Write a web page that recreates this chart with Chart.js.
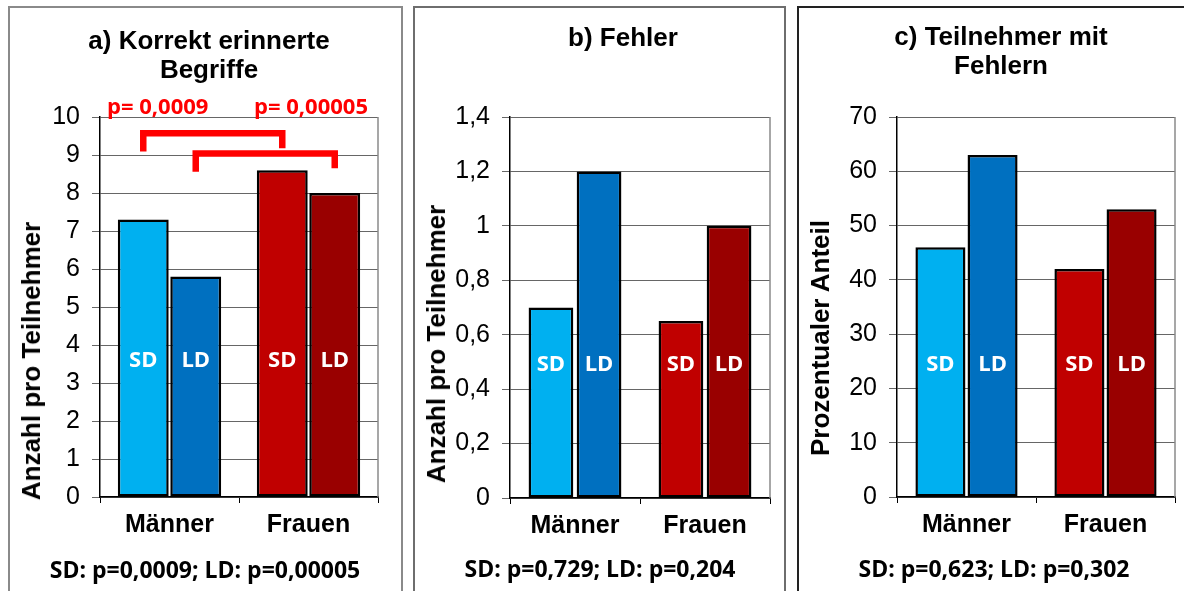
<!DOCTYPE html>
<html><head><meta charset="utf-8">
<script src="https://cdn.jsdelivr.net/npm/chart.js@4/dist/chart.umd.min.js"></script>
<style>
html,body{margin:0;padding:0;background:#fff;width:1184px;height:591px;overflow:hidden;position:relative}
.panel{position:absolute;box-sizing:border-box;border-style:solid;border-width:2px 2px 0 2px;top:6px;height:600px}
.wrap{position:absolute;top:7px;height:584px}
.title{position:absolute;font:bold 26px 'Liberation Sans',Arial,sans-serif;line-height:29px;text-align:center;white-space:nowrap;transform:translateX(-50%);color:#000}
.ytitle{position:absolute;font:bold 26px 'Liberation Sans',Arial,sans-serif;line-height:26px;white-space:nowrap;transform:translate(-50%,-50%) rotate(-90deg);color:#000}
.foot{position:absolute;font:bold 23px 'Open Sans',sans-serif;line-height:30px;white-space:nowrap;transform:translateX(-50%);color:#000}
.pval{position:absolute;font:bold 22px 'Open Sans',sans-serif;color:#ff0000;line-height:26px;white-space:nowrap}
</style>
</head><body>
<div class="panel" style="left:8px;width:395px;border-color:#8a8a8a"></div>
<div class="panel" style="left:413px;width:373px;border-color:#6e6e6e"></div>
<div class="panel" style="left:797px;width:420px;border-color:#222;border-right-width:0"></div>

<div class="wrap" style="left:9px;width:393px"><canvas id="ca" width="393" height="584"></canvas></div>
<div class="wrap" style="left:414px;width:371px"><canvas id="cb" width="371" height="584"></canvas></div>
<div class="wrap" style="left:798px;width:386px"><canvas id="cc" width="386" height="584"></canvas></div>

<div class="title" style="left:209px;top:26px">a) Korrekt erinnerte<br>Begriffe</div>
<div class="title" style="left:623px;top:23px">b) Fehler</div>
<div class="title" style="left:1001px;top:21.5px">c) Teilnehmer mit<br>Fehlern</div>

<div class="ytitle" style="left:31px;top:361px">Anzahl pro Teilnehmer</div>
<div class="ytitle" style="left:436px;top:344px">Anzahl pro Teilnehmer</div>
<div class="ytitle" style="left:820px;top:338px">Prozentualer Anteil</div>

<div class="pval" style="left:107px;top:92px">p= 0,0009</div>
<div class="pval" style="left:254px;top:92px">p= 0,00005</div>

<div class="foot" style="left:205px;top:554px">SD: p=0,0009; LD: p=0,00005</div>
<div class="foot" style="left:600px;top:553px">SD: p=0,729; LD: p=0,204</div>
<div class="foot" style="left:994px;top:553px">SD: p=0,623; LD: p=0,302</div>

<script>
// ---- data ----
const categories = ['Männer', 'Frauen'];
const seriesNames = ['SD', 'LD'];

const aSD = [7.3, 8.6];
const aLD = [5.8, 8.0];
const bSD = [0.7, 0.65];
const bLD = [1.2, 1.0];
const cSD = [46, 42];
const cLD = [63, 53];

const aTicks = ['0','1','2','3','4','5','6','7','8','9','10'];
const bTicks = ['0','0,2','0,4','0,6','0,8','1','1,2','1,4'];
const cTicks = ['0','10','20','30','40','50','60','70'];

// significance brackets in panel a (SD pair, LD pair), in axis units
const bracketTops = [9.57, 9.04];
const bracketLeftEnds = [9.09, 8.56];
const bracketRightEnds = [9.18, 8.65];

const sdColors = ['#00B0F0', '#C00000'];
const ldColors = ['#0070C0', '#990000'];

const FAM = "'Liberation Sans', Arial, sans-serif";

const barTextPlugin = {
  id: 'barText',
  afterDatasetsDraw(chart, args, opts) {
    const ctx = chart.ctx, area = chart.chartArea;
    const yc = area.bottom - opts.frac * (area.bottom - area.top);
    ctx.save();
    ctx.font = "bold 22px 'Open Sans', sans-serif";
    ctx.fillStyle = '#fff';
    ctx.textAlign = 'center';
    ctx.textBaseline = 'alphabetic';
    chart.data.datasets.forEach((ds, di) => {
      chart.getDatasetMeta(di).data.forEach(bar => {
        ctx.fillText(seriesNames[di], bar.x, yc + 8);
      });
    });
    ctx.restore();
  }
};

const frameRightPlugin = {
  id: 'frameRight',
  beforeDatasetsDraw(chart) {
    const ctx = chart.ctx, a = chart.chartArea;
    ctx.save();
    ctx.strokeStyle = '#8a8a8a';
    ctx.lineWidth = 1.5;
    ctx.beginPath();
    ctx.moveTo(a.right, a.top);
    ctx.lineTo(a.right, a.bottom);
    ctx.stroke();
    ctx.restore();
  }
};

const bracketPlugin = {
  id: 'brackets',
  afterDatasetsDraw(chart) {
    const ctx = chart.ctx, y = chart.scales.y;
    ctx.save();
    ctx.strokeStyle = '#ff0000';
    ctx.lineWidth = 6.5;
    ctx.lineJoin = 'miter';
    ctx.lineCap = 'butt';
    for (let k = 0; k < 2; k++) {
      const bars = chart.getDatasetMeta(k).data;
      const x1 = bars[0].x, x2 = bars[1].x;
      ctx.beginPath();
      ctx.moveTo(x1, y.getPixelForValue(bracketLeftEnds[k]));
      ctx.lineTo(x1, y.getPixelForValue(bracketTops[k]));
      ctx.lineTo(x2, y.getPixelForValue(bracketTops[k]));
      ctx.lineTo(x2, y.getPixelForValue(bracketRightEnds[k]));
      ctx.stroke();
    }
    ctx.restore();
  }
};

function makeChart(id, sd, ld, ticks, maxV, step, o, extra) {
  const plugins = [barTextPlugin, frameRightPlugin].concat(extra || []);
  return new Chart(document.getElementById(id), {
    type: 'bar',
    data: {
      labels: categories,
      datasets: [
        { label: seriesNames[0], data: sd, backgroundColor: sdColors, borderColor: '#000', borderWidth: 2.5,
          borderSkipped: false, categoryPercentage: o.cp, barPercentage: o.bp },
        { label: seriesNames[1], data: ld, backgroundColor: ldColors, borderColor: '#000', borderWidth: 2.5,
          borderSkipped: false, categoryPercentage: o.cp, barPercentage: o.bp }
      ]
    },
    options: {
      responsive: false,
      animation: false,
      devicePixelRatio: 1,
      layout: { padding: { top: 110, right: o.pr, left: 0, bottom: 0 } },
      scales: {
        x: {
          grid: { drawOnChartArea: false, offset: true, tickLength: 6, color: '#000', lineWidth: 1 },
          border: { color: '#000', width: 1.5 },
          ticks: { font: { family: FAM, size: 25, weight: 'bold' }, color: '#000', padding: 7 },
          afterFit(s) { s.height = o.xh; }
        },
        y: {
          min: 0, max: maxV,
          ticks: { stepSize: step, font: { family: FAM, size: 25 }, color: '#000', padding: 12,
                   callback: (v) => ticks[Math.round(v / step)] },
          grid: { color: '#666', tickLength: 8, lineWidth: 1 },
          border: { color: '#000', width: 1.5 },
          afterFit(s) { s.width = o.yw; }
        }
      },
      plugins: {
        legend: { display: false },
        tooltip: { enabled: false },
        barText: { frac: o.frac }
      }
    },
    plugins: plugins
  });
}

makeChart('ca', aSD, aLD, aTicks, 10, 1, { yw: 91, pr: 24, xh: 94, cp: 0.755, bp: 0.97, frac: 0.363 }, [bracketPlugin]);
makeChart('cb', bSD, bLD, bTicks, 1.4, 0.2, { yw: 96, pr: 15, xh: 93, cp: 0.74, bp: 0.93, frac: 0.354 });
makeChart('cc', cSD, cLD, cTicks, 70, 10, { yw: 99, pr: 9, xh: 94, cp: 0.75, bp: 0.96, frac: 0.353 });
</script>
</body></html>
